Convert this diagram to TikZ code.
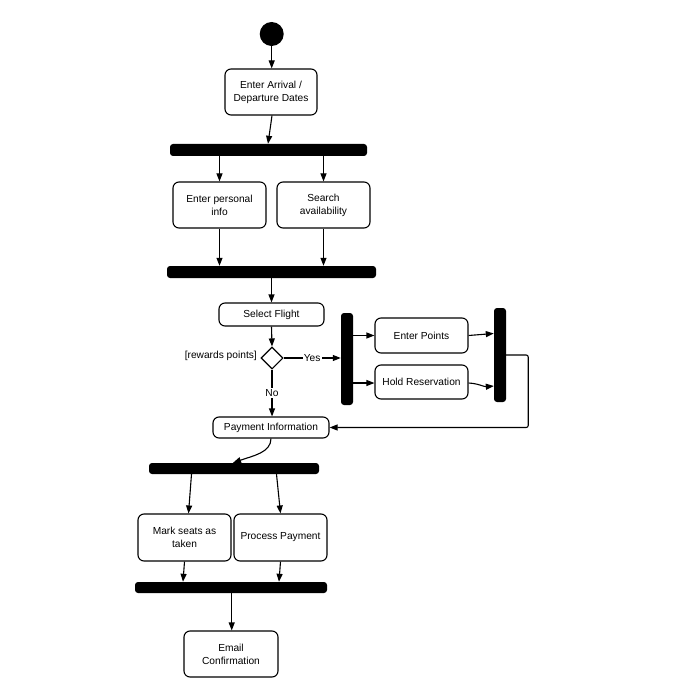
\documentclass[tikz,border=0pt]{standalone}
\usepackage{fontspec}
\setmainfont{Liberation Sans}
\usetikzlibrary{arrows.meta,shapes.geometric}
\begin{document}
\begin{tikzpicture}[x=1pt,y=-1pt,
  every node/.style={font=\fontsize{10.2pt}{13pt}\selectfont},
  act/.style={draw, line width=1.1pt, rounded corners=6pt, align=center, inner sep=0pt},
  bar/.style={fill=black, draw=none, rounded corners=3pt, inner sep=0pt},
  arr/.style={line width=1.1pt, -{Triangle[length=8pt,width=6pt]}},
  ln/.style={line width=1.1pt},
  lbl/.style={fill=white, inner sep=1pt}]
\useasboundingbox (0,0) rectangle (700,700);
\node[circle, fill=black, minimum size=24pt, inner sep=0pt] (start) at (271.7,34) {};
\node[act, minimum width=92pt, minimum height=46pt] (arr) at (271,92) {Enter Arrival /\\Departure Dates};
\node[bar, minimum width=197pt, minimum height=12pt] (fork1) at (268.5,150) {};
\node[act, minimum width=93pt, minimum height=46pt] (info) at (219.5,205) {Enter personal\\info};
\node[act, minimum width=93pt, minimum height=46pt] (search) at (323.5,205) {Search\\availability};
\node[bar, minimum width=209pt, minimum height=12pt] (join1) at (271.5,272) {};
\node[act, minimum width=105pt, minimum height=23pt] (select) at (271.5,314.5) {Select Flight};
\node[diamond, draw, line width=1.1pt, minimum width=22pt, minimum height=22pt, inner sep=0pt] (dec) at (272,358) {};
\node[anchor=east, inner sep=0pt] (rw) at (257,356) {[rewards points]};
\node[bar, minimum width=12pt, minimum height=92pt] (fork2) at (347,359) {};
\node[act, minimum width=93pt, minimum height=35pt] (points) at (421.5,335.5) {Enter Points};
\node[act, minimum width=93pt, minimum height=34pt] (hold) at (421.5,382) {Hold Reservation};
\node[bar, minimum width=12pt, minimum height=94pt] (join2) at (500,355) {};
\node[act, minimum width=116pt, minimum height=21pt] (pay) at (271,427.5) {Payment Information};
\node[bar, minimum width=170pt, minimum height=11pt] (fork3) at (234,468.5) {};
\node[act, minimum width=93pt, minimum height=47pt] (mark) at (184.5,537.5) {Mark seats as\\taken};
\node[act, minimum width=93pt, minimum height=47pt] (process) at (280.5,537.5) {Process Payment};
\node[bar, minimum width=192pt, minimum height=11pt] (join3) at (231,587.5) {};
\node[act, minimum width=94pt, minimum height=46pt] (email) at (231,654) {Email\\Confirmation};

\draw[arr] (start) -- (start.south |- arr.north);
\draw[arr] ([xshift=1pt]arr.south) -- ([xshift=-3pt]arr.south |- fork1.north);
\draw[arr] (info.north |- fork1.south) -- (info.north);
\draw[arr] (search.north |- fork1.south) -- (search.north);
\draw[arr] (info.south) -- (info.south |- join1.north);
\draw[arr] (search.south) -- (search.south |- join1.north);
\draw[arr] (join1.south -| select.north) -- (select.north);
\draw[arr] (select.south) -- (dec.north);
\draw[arr] (dec.east) -- node[lbl] {Yes} (dec.east -| fork2.west);
\draw[arr] (dec.south) -- node[lbl] {No} (dec.south |- pay.north);
\draw[arr] (fork2.east |- points.west) -- (points.west);
\draw[arr] ([yshift=-1pt]fork2.east |- hold.west) -- ([yshift=-1pt]hold.west);
\draw[arr] (points.east) -- ([yshift=2pt]points.east -| join2.west);
\draw[arr] ([yshift=-1pt]hold.east) to[out=-3,in=185] ([yshift=-4pt]hold.east -| join2.west);
\draw[ln,-{Triangle[length=8pt,width=6pt]}, rounded corners=2pt] (join2.east) -- ++(22,0) |- (pay.east);
\draw[arr] (pay.south) .. controls +(0,14) and +(20,-7) .. ([xshift=-1pt]fork3.north);
\draw[arr] ([xshift=7pt]mark.north |- fork3.south) -- ([xshift=4pt]mark.north);
\draw[arr] ([xshift=-4pt]process.north |- fork3.south) -- (process.north);
\draw[arr] (mark.south) -- ([xshift=-1.5pt]mark.south |- join3.north);
\draw[arr] (process.south) -- ([xshift=-1.5pt]process.south |- join3.north);
\draw[arr] ([xshift=0.7pt]email.north |- join3.south) -- ([xshift=0.7pt]email.north);
\end{tikzpicture}
\end{document}
